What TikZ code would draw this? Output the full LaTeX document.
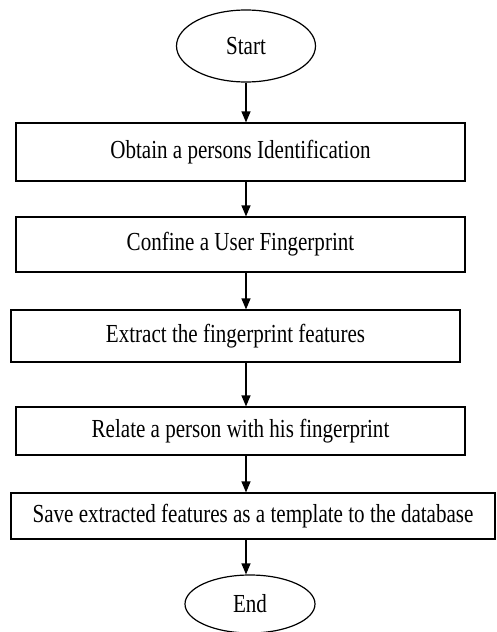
\documentclass[tikz,border=0pt]{standalone}
\usepackage{fontspec}
\setmainfont{Liberation Serif}[FakeStretch=0.81]
\usetikzlibrary{arrows.meta,shapes.geometric}

\begin{document}
\begin{tikzpicture}[x=1pt, y=-1pt, >={Triangle[length=11pt,width=9pt]}, line width=1.2pt,
                    every node/.style={font=\fontsize{26}{30}\selectfont},
                    stepbox/.style={draw, rectangle, minimum width=449pt, inner sep=0pt},
                    terminal/.style={draw, ellipse, inner sep=0pt}]
\useasboundingbox (0,0) rectangle (496,632);

\node[terminal, minimum width=139pt, minimum height=72pt] (start) at (246,46) {Start};
\node[stepbox, minimum height=58pt] (ident) at (240.5,152) {Obtain a persons Identification};
\node[stepbox, minimum height=55pt] (confine) at (240.5,244.5) {Confine a User Fingerprint};
\node[stepbox, minimum height=52pt] (extract) at (235.5,336) {Extract the fingerprint features};
\node[stepbox, minimum height=48pt] (relate) at (240.5,431) {Relate a person with his fingerprint};
\node[stepbox, minimum width=484pt, minimum height=46pt] (save) at (253,516) {Save extracted features as a template to the database};
\node[terminal, minimum width=130pt, minimum height=58pt] (end) at (250,604) {End};

\path[->]
(start.south) edge (start |- ident.north)
(ident.south -| start) edge (start |- confine.north)
(confine.south -| start) edge (start |- extract.north)
(extract.south -| start) edge (start |- relate.north)
(relate.south -| start) edge (start |- save.north)
(save.south -| start) edge (start |- end.north) ;
\end{tikzpicture}
\end{document}
